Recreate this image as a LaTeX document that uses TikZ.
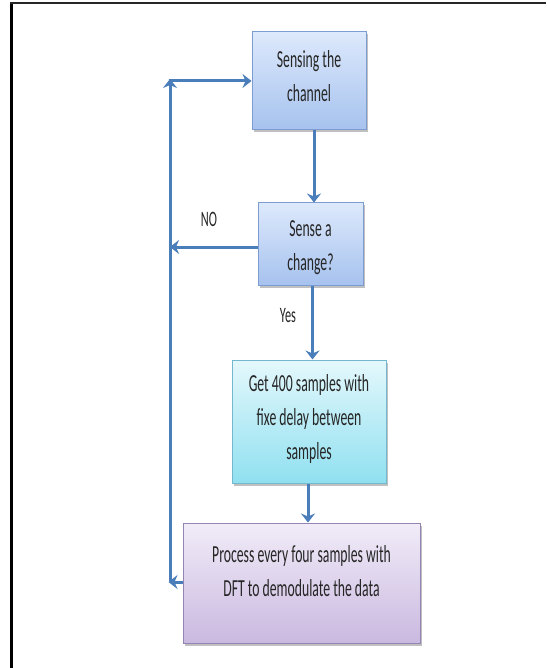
\documentclass[tikz,border=0pt]{standalone}
\usepackage{fontspec}
\setmainfont{Carlito}
\newfontfamily\narrowfont[FakeStretch=0.56]{Carlito}
\usetikzlibrary{arrows.meta,shadows,shadings}
\definecolor{arrowblue}{HTML}{4A7EBB}
\definecolor{bluetop}{HTML}{DDE9FC}
\definecolor{bluebot}{HTML}{A6C2EE}
\definecolor{blueedge}{HTML}{7C9CD2}
\definecolor{cyantop}{HTML}{E4F8FC}
\definecolor{cyanbot}{HTML}{90E0F0}
\definecolor{cyanedge}{HTML}{74B8CF}
\definecolor{purptop}{HTML}{F1ECF8}
\definecolor{purpbot}{HTML}{CAB9E0}
\definecolor{purpedge}{HTML}{9384B4}
\tikzset{
  boxbase/.style={rectangle, draw, line width=1pt, align=center, inner sep=2pt,
    drop shadow={shadow xshift=2pt, shadow yshift=-2.5pt, opacity=0.35, fill=black!70}},
  bluebox/.style={boxbase, draw=blueedge, top color=bluetop, bottom color=bluebot},
  cyanbox/.style={boxbase, draw=cyanedge, top color=cyantop, bottom color=cyanbot},
  purpbox/.style={boxbase, draw=purpedge, top color=purptop, bottom color=purpbot},
  boxtext/.style={font=\narrowfont\fontsize{24.5}{34}\selectfont, align=center, inner sep=0pt, text=black!85},
  arr/.style={draw=arrowblue, line width=3pt, -{Stealth[length=9pt,width=14pt,inset=3pt]}},
  lbl/.style={font=\narrowfont\fontsize{22}{24}\selectfont, inner sep=0pt, text=black!85}
}
\begin{document}
\begin{tikzpicture}[x=1pt,y=-1pt]
\useasboundingbox (0,0) rectangle (546,668);
\fill[white] (0,0) rectangle (546,668);
% frame
\draw[black, line width=3pt] (11,668) -- (11,3.5);
\draw[black!85, line width=2pt] (10,3.5) -- (546,3.5);
% boxes
\node[bluebox, minimum width=114pt, minimum height=98pt] (b1) at (309,81) {};
\node[boxtext] (t1) at (309,76) {Sensing the\\channel};
\node[bluebox, minimum width=105pt, minimum height=82pt] (b2) at (310.5,244) {};
\node[boxtext] (t2) at (310.5,248) {Sense a\\change?};
\node[cyanbox, minimum width=154pt, minimum height=123pt] (b3) at (309,421.5) {};
\node[boxtext] (t3) at (309,419) {Get 400 samples with\\fixe delay between\\samples};
\node[purpbox, minimum width=237pt, minimum height=120pt] (b4) at (301.5,583) {};
\node[boxtext] (t4) at (301.5,571) {Process every four samples with\\DFT to demodulate the data};
% coordinates of the loop
\coordinate (cb) at (170,582);
\coordinate (ct) at (170,81);
\coordinate (cno) at (170,247);
% arrows
\draw[arr] ([xshift=5pt]b1.south) -- ([xshift=5pt]b1.south |- b2.north);
\draw[arr] ([xshift=2pt]b2.south) -- ([xshift=2pt]b2.south |- b3.north);
\draw[arr] ([xshift=-1pt]b3.south) -- ([xshift=-1pt]b3.south |- b4.north);
\draw[arr] (b2.west |- cno) -- (cno);
\draw[arr] (b4.west |- cb) -- ([xshift=-1.5pt]cb);
\draw[arr] ([yshift=1.5pt]cb) -- ([yshift=2pt]ct);
\draw[arr] ([xshift=-1.5pt]ct) -- (b1.west |- ct);
% labels
\node[lbl] (no) at (209,219) {NO};
\node[lbl] (yes) at (288,316) {Yes};
\end{tikzpicture}
\end{document}
